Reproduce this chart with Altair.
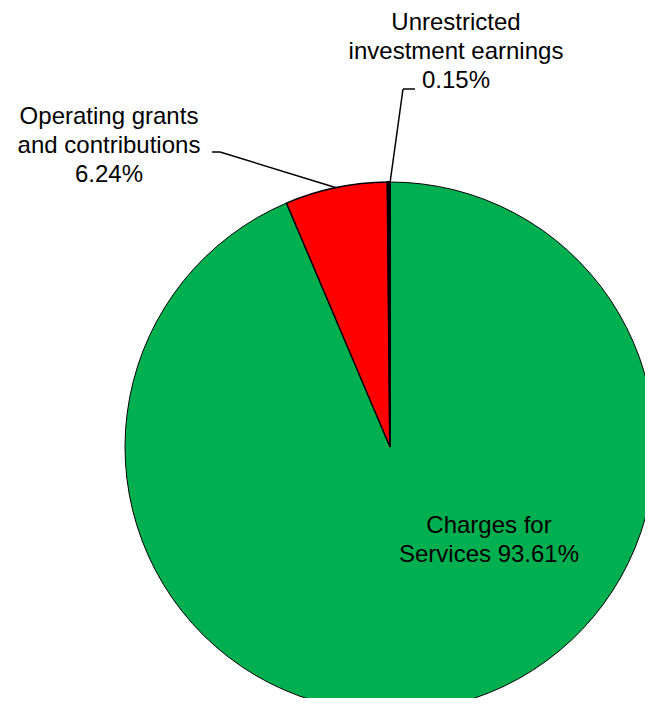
import altair as alt
import pandas as pd

categories = ["Charges for Services", "Operating grants and contributions", "Unrestricted investment earnings"]
values = [93.61, 6.24, 0.15]
colors = ["#00B050", "#FF0000", "#000000"]
label_lines = [["Charges for", "Services {v:.2f}%"],
               ["Operating grants", "and contributions", "{v:.2f}%"],
               ["Unrestricted", "investment earnings", "{v:.2f}%"]]

df = pd.DataFrame({"category": categories, "value": values, "idx": list(range(len(values)))})
df["label"] = ["\n".join(lines).format(v=v) for lines, v in zip(label_lines, values)]

CX, CY, R = 382, 439, 265

pie = alt.Chart(df).mark_arc(stroke="black").encode(
    theta=alt.Theta("value:Q", stack=True),
    order=alt.Order("idx:Q"),
    color=alt.Color("category:N", scale=alt.Scale(domain=categories, range=colors), legend=None),
    strokeWidth=alt.StrokeWidth("category:N", scale=alt.Scale(domain=categories, range=[1, 2, 2]), legend=None),
    x=alt.value(CX), y=alt.value(CY), radius=alt.value(R),
)

label_pos = {categories[0]: (481, 525), categories[1]: (101, 116), categories[2]: (448, 22)}
texts = []
for cat, (lx, ly) in label_pos.items():
    texts.append(
        alt.Chart(df).transform_filter(alt.datum.category == cat).mark_text(
            font="Liberation Sans", fontSize=24, lineBreak="\n", lineHeight=29,
            align="center", baseline="alphabetic", color="black",
        ).encode(text="label:N", x=alt.value(lx), y=alt.value(ly))
    )

segments = [
    (204, 144, 212, 144), (212, 144, 329, 180),
    (407, 81, 395, 81), (395, 81, 382, 175),
]
rules = [
    alt.Chart(df).transform_filter(alt.datum.idx == 0).mark_rule(color="black", strokeWidth=1.5).encode(
        x=alt.value(a), y=alt.value(b), x2=alt.value(c), y2=alt.value(d))
    for a, b, c, d in segments
]

chart = alt.layer(pie, *rules, *texts).properties(
    width=637, height=690, padding=0, autosize=alt.AutoSizeParams(type="none")
).configure_view(stroke=None)

chart.save("out.html", embed_options={"renderer": "svg", "actions": False})
